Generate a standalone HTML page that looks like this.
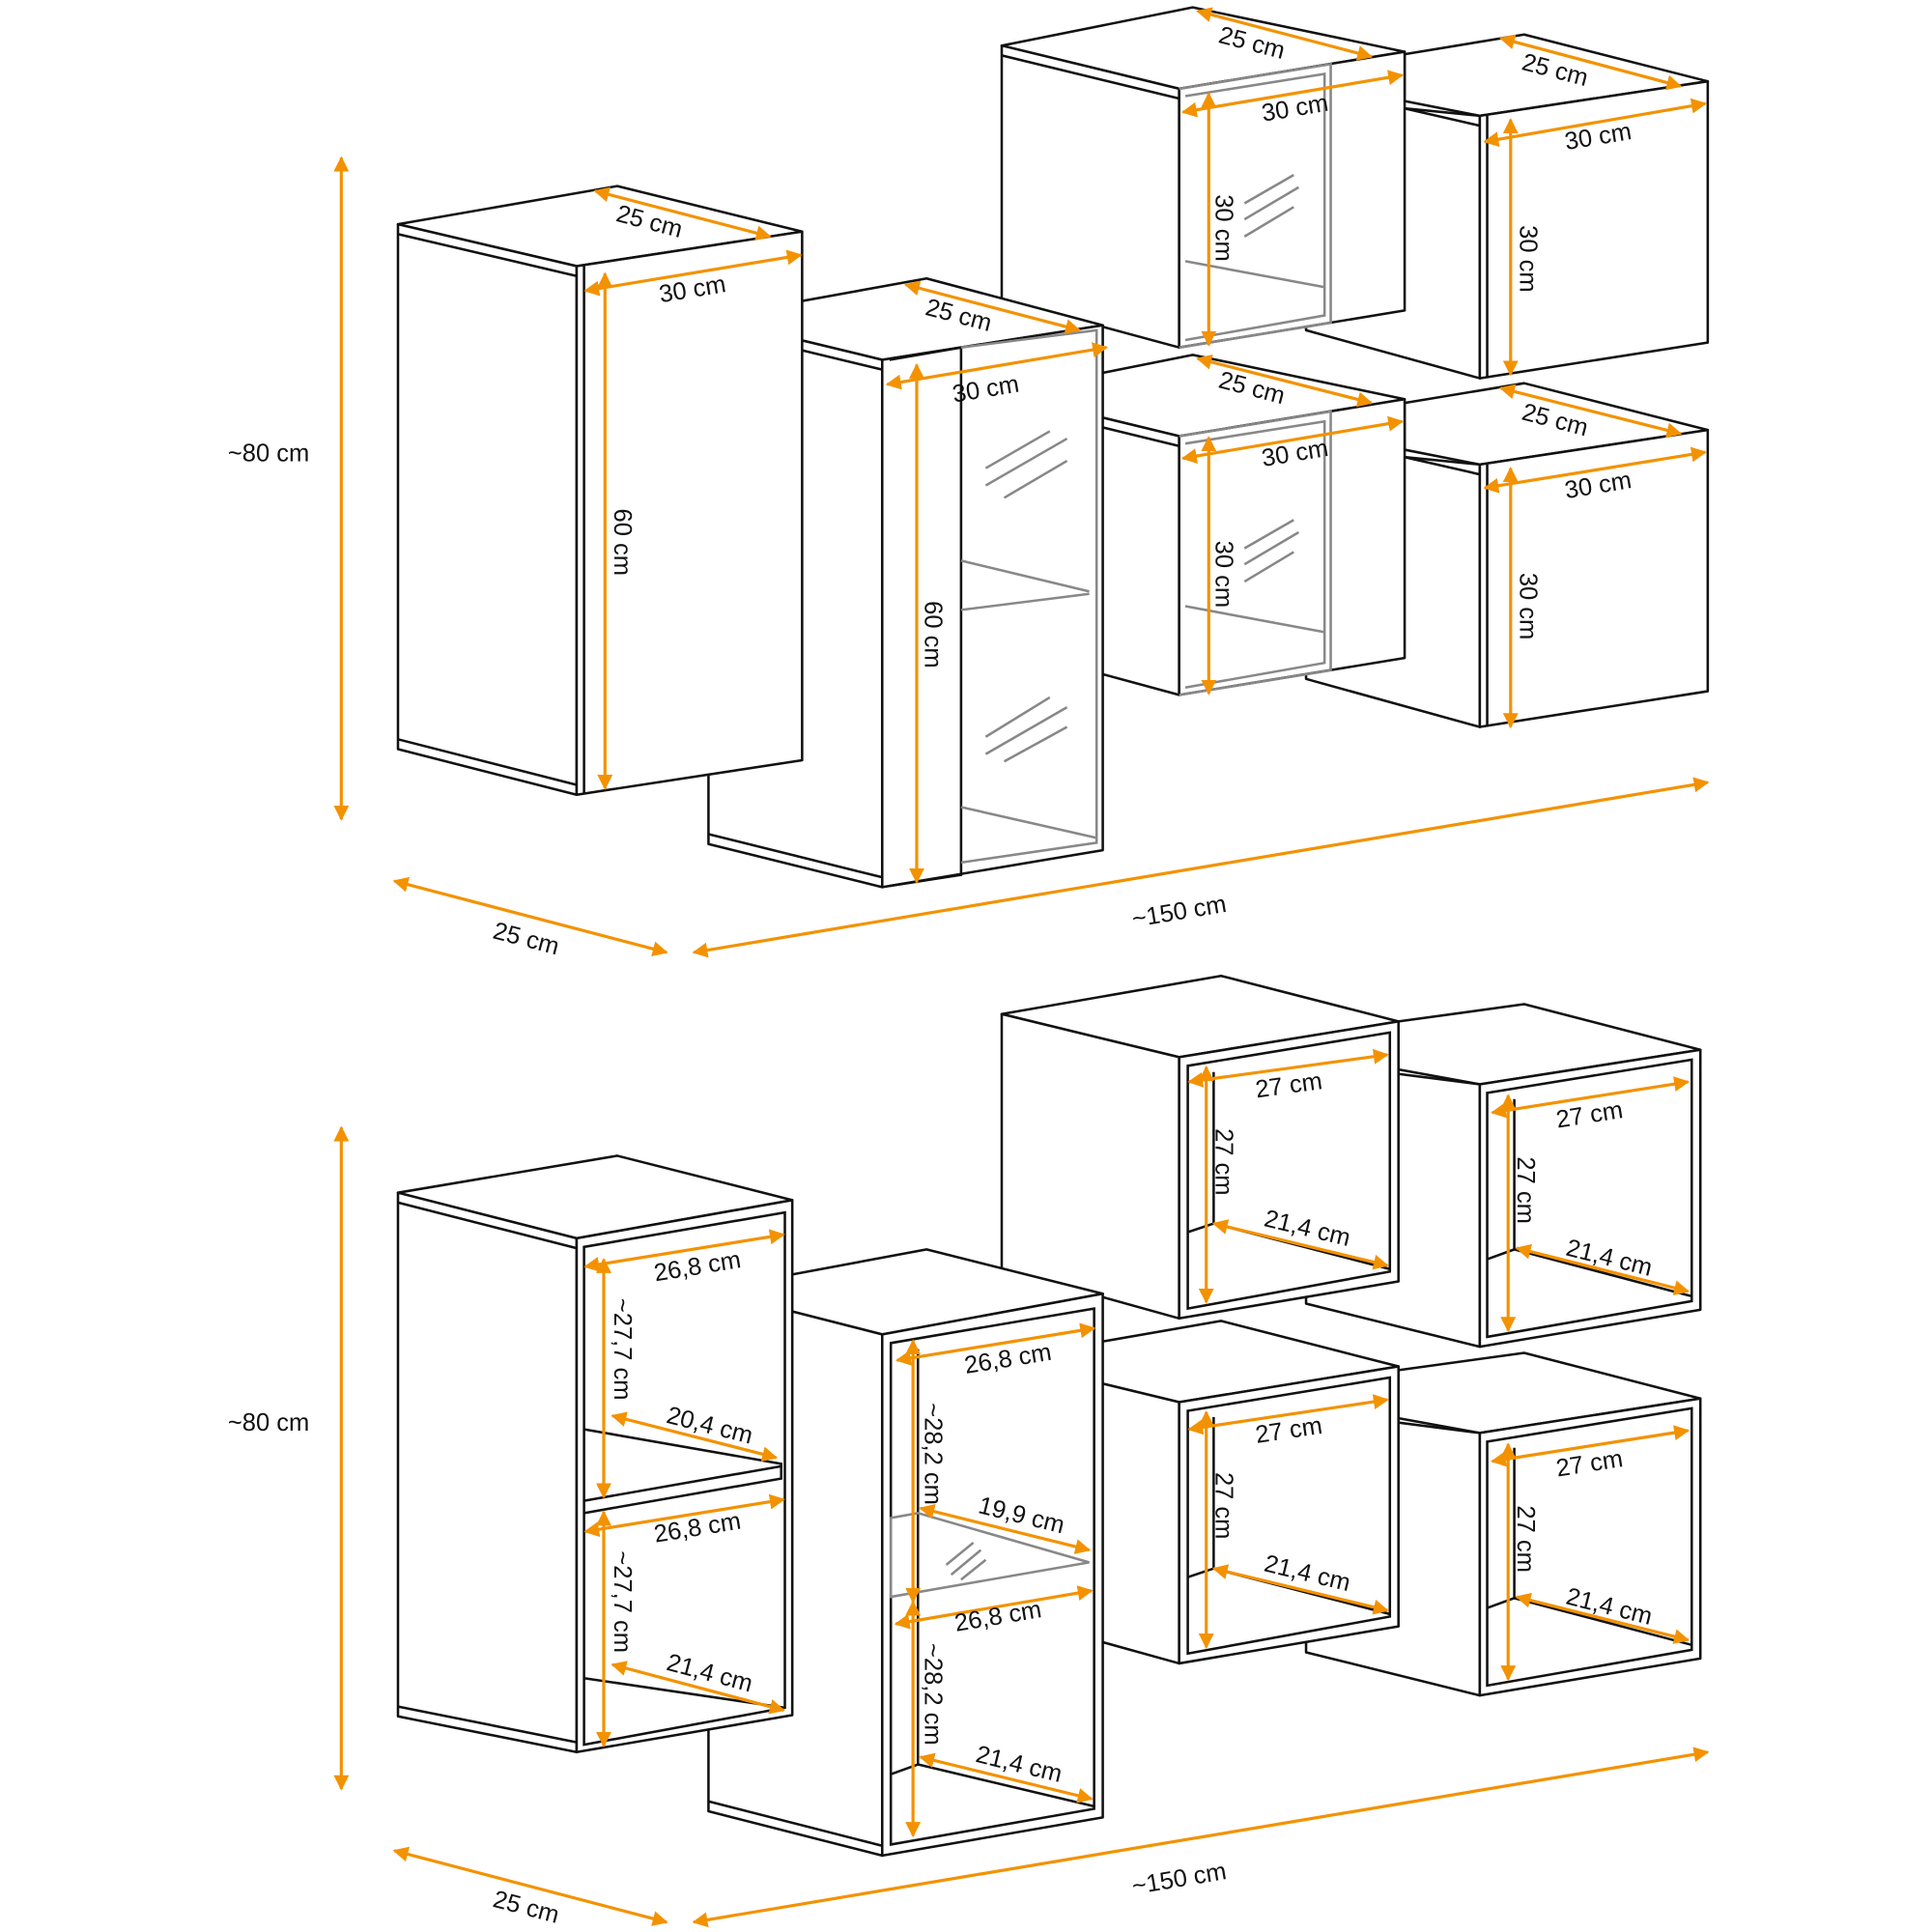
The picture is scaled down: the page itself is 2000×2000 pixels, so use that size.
<!DOCTYPE html>
<html><head><meta charset="utf-8"><style>
html,body{margin:0;padding:0;background:#fff}
svg{display:block}
text{font-family:"Liberation Sans",sans-serif;font-size:20px;fill:#111;text-anchor:middle;dominant-baseline:central}
.f{fill:#fff;stroke:#111;stroke-width:2;stroke-linejoin:round}
.l{stroke:#111;stroke-width:2;fill:none}
.g{stroke:#888;stroke-width:2;fill:none}
.a{stroke:#f39200;stroke-width:2.5;marker-start:url(#m);marker-end:url(#m)}
</style></head><body>
<svg width="2000" height="2000" viewBox="0 0 1568 1568" xmlns="http://www.w3.org/2000/svg">
<defs><marker id="m" viewBox="0 0 10 10" refX="9" refY="5" markerWidth="5" markerHeight="5" orient="auto-start-reverse"><path d="M0,0 L10,5 L0,10 z" fill="#f39200"/></marker></defs>

<!-- ===== TOP ===== -->
<!-- cube B -->
<polygon class="f" points="1140,82 1140,44 1237,28 1386,66 1201,94"/>
<polygon class="f" points="1060,80 1201,94 1201,307 1060,268"/>
<polygon class="f" points="1201,94 1386,66 1386,278 1201,307"/>
<line class="l" x1="1140" y1="88" x2="1201" y2="102"/>
<line class="l" x1="1207" y1="94" x2="1207" y2="306"/>
<!-- cube A -->
<polygon class="f" points="813,37 968,6 1140,42 957,72"/>
<polygon class="f" points="813,37 957,72 957,282 813,243"/>
<polygon class="f" points="957,72 1140,42 1140,252 957,282"/>
<line class="l" x1="813" y1="45" x2="957" y2="80"/>
<polyline class="g" points="957,72 1080,52 1080,262 957,282"/>
<polyline class="g" points="962,78 1075,60 1075,256 962,276"/>
<line class="g" x1="962" y1="212" x2="1075" y2="233"/>
<line class="g" x1="1010" y1="165" x2="1050" y2="142"/>
<line class="g" x1="1010" y1="178" x2="1054" y2="152"/>
<line class="g" x1="1010" y1="192" x2="1050" y2="168"/>
<!-- cube D -->
<polygon class="f" points="1140,365 1140,327 1237,311 1386,349 1201,377"/>
<polygon class="f" points="1060,363 1201,377 1201,590 1060,551"/>
<polygon class="f" points="1201,377 1386,349 1386,561 1201,590"/>
<line class="l" x1="1140" y1="371" x2="1201" y2="385"/>
<line class="l" x1="1207" y1="377" x2="1207" y2="589"/>
<!-- cube C -->
<polygon class="f" points="813,319 968,288 1140,324 957,354"/>
<polygon class="f" points="813,319 957,354 957,564 813,525"/>
<polygon class="f" points="957,354 1140,324 1140,534 957,564"/>
<line class="l" x1="813" y1="327" x2="957" y2="362"/>
<polyline class="g" points="957,354 1080,334 1080,544 957,564"/>
<polyline class="g" points="962,360 1075,342 1075,538 962,558"/>
<line class="g" x1="962" y1="492" x2="1075" y2="513"/>
<line class="g" x1="1010" y1="445" x2="1050" y2="422"/>
<line class="g" x1="1010" y1="458" x2="1054" y2="432"/>
<line class="g" x1="1010" y1="472" x2="1050" y2="448"/>
<!-- cabinet 2 -->
<polygon class="f" points="575,258 752,226 895,264 716,292"/>
<polygon class="f" points="575,258 716,292 716,720 575,685"/>
<polygon class="f" points="716,292 895,264 895,690 716,720"/>
<line class="l" x1="575" y1="266" x2="716" y2="300"/>
<line class="l" x1="575" y1="677" x2="716" y2="712"/>
<polyline class="l" points="722,292 780,282 780,710 722,719"/>
<polyline class="g" points="780,282 890,268 890,684 780,700"/>
<line class="g" x1="780" y1="655" x2="890" y2="680"/>
<line class="g" x1="780" y1="455" x2="884" y2="480"/>
<line class="g" x1="780" y1="495" x2="884" y2="482"/>
<line class="g" x1="800" y1="380" x2="852" y2="350"/>
<line class="g" x1="800" y1="394" x2="866" y2="356"/>
<line class="g" x1="815" y1="404" x2="866" y2="374"/>
<line class="g" x1="800" y1="598" x2="852" y2="566"/>
<line class="g" x1="800" y1="612" x2="866" y2="574"/>
<line class="g" x1="815" y1="618" x2="866" y2="590"/>
<!-- cabinet 1 -->
<polygon class="f" points="323,182 501,151 651,188 468,216"/>
<polygon class="f" points="323,182 468,216 468,645 323,608"/>
<polygon class="f" points="468,216 651,188 651,617 468,645"/>
<line class="l" x1="323" y1="190" x2="468" y2="224"/>
<line class="l" x1="323" y1="600" x2="468" y2="637"/>
<line class="l" x1="474" y1="216" x2="474" y2="644"/>

<!-- top dims -->
<line class="a" x1="277" y1="128" x2="277" y2="665"/><text x="218" y="368">~80 cm</text>
<line class="a" x1="320" y1="715" x2="541" y2="773"/><text transform="translate(427,762) rotate(14.7)">25 cm</text>
<line class="a" x1="563" y1="773" x2="1386" y2="635"/><text transform="translate(957,740) rotate(-9.5)">~150 cm</text>
<line class="a" x1="483" y1="155" x2="625" y2="192"/><text transform="translate(527,180) rotate(14.7)">25 cm</text>
<line class="a" x1="475" y1="236" x2="650" y2="207"/><text transform="translate(562,235) rotate(-9.4)">30 cm</text>
<line class="a" x1="491" y1="222" x2="491" y2="640"/><text transform="translate(505,440) rotate(90)">60 cm</text>
<line class="a" x1="735" y1="231" x2="876" y2="268"/><text transform="translate(778,256) rotate(14.7)">25 cm</text>
<line class="a" x1="720" y1="312" x2="898" y2="282"/><text transform="translate(800,316) rotate(-9.4)">30 cm</text>
<line class="a" x1="744" y1="296" x2="744" y2="716"/><text transform="translate(757,515) rotate(90)">60 cm</text>
<line class="a" x1="972" y1="9" x2="1113" y2="46"/><text transform="translate(1016,35) rotate(14.7)">25 cm</text>
<line class="a" x1="960" y1="91" x2="1138" y2="61"/><text transform="translate(1051,88) rotate(-9.4)">30 cm</text>
<line class="a" x1="981" y1="76" x2="981" y2="280"/><text transform="translate(993,185) rotate(90)">30 cm</text>
<line class="a" x1="1218" y1="31" x2="1364" y2="70"/><text transform="translate(1262,57) rotate(14.7)">25 cm</text>
<line class="a" x1="1205" y1="115" x2="1384" y2="84"/><text transform="translate(1297,111) rotate(-9.4)">30 cm</text>
<line class="a" x1="1226" y1="97" x2="1226" y2="304"/><text transform="translate(1240,210) rotate(90)">30 cm</text>
<line class="a" x1="972" y1="291" x2="1113" y2="327"/><text transform="translate(1016,315) rotate(14.7)">25 cm</text>
<line class="a" x1="960" y1="372" x2="1138" y2="342"/><text transform="translate(1051,368) rotate(-9.4)">30 cm</text>
<line class="a" x1="981" y1="355" x2="981" y2="563"/><text transform="translate(993,466) rotate(90)">30 cm</text>
<line class="a" x1="1218" y1="315" x2="1364" y2="352"/><text transform="translate(1262,341) rotate(14.7)">25 cm</text>
<line class="a" x1="1205" y1="396" x2="1384" y2="367"/><text transform="translate(1297,394) rotate(-9.4)">30 cm</text>
<line class="a" x1="1226" y1="380" x2="1226" y2="590"/><text transform="translate(1240,492) rotate(90)">30 cm</text>

<!-- ===== BOTTOM ===== -->
<!-- cube B' -->
<polygon class="f" points="1135,868 1135,829 1237,815 1380,852 1201,880"/>
<polygon class="f" points="1060,862 1201,880 1201,1093 1060,1058"/>
<polygon class="f" points="1201,880 1380,852 1380,1063 1201,1093"/>
<polygon class="l" points="1207,887 1373,860 1373,1056 1207,1085"/>
<polyline class="l" points="1229,892 1229,1014 1373,1052"/>
<line class="l" x1="1207" y1="1022" x2="1229" y2="1014"/>
<!-- cube A' -->
<polygon class="f" points="813,823 991,792 1135,829 957,858"/>
<polygon class="f" points="813,823 957,858 957,1070 813,1030"/>
<polygon class="f" points="957,858 1135,829 1135,1040 957,1070"/>
<polygon class="l" points="964,865 1128,838 1128,1032 964,1062"/>
<polyline class="l" points="985,870 985,993 1128,1030"/>
<line class="l" x1="964" y1="1000" x2="985" y2="993"/>
<!-- cube D' -->
<polygon class="f" points="1135,1151 1135,1112 1237,1098 1380,1135 1201,1163"/>
<polygon class="f" points="1060,1145 1201,1163 1201,1376 1060,1341"/>
<polygon class="f" points="1201,1163 1380,1135 1380,1346 1201,1376"/>
<polygon class="l" points="1207,1170 1373,1143 1373,1339 1207,1368"/>
<polyline class="l" points="1229,1175 1229,1297 1373,1335"/>
<line class="l" x1="1207" y1="1305" x2="1229" y2="1297"/>
<!-- cube C' -->
<polygon class="f" points="813,1103 991,1072 1135,1109 957,1138"/>
<polygon class="f" points="813,1103 957,1138 957,1350 813,1310"/>
<polygon class="f" points="957,1138 1135,1109 1135,1320 957,1350"/>
<polygon class="l" points="964,1145 1128,1118 1128,1312 964,1342"/>
<polyline class="l" points="985,1150 985,1273 1128,1310"/>
<line class="l" x1="964" y1="1280" x2="985" y2="1273"/>
<!-- cabinet 2' -->
<polygon class="f" points="575,1047 752,1014 895,1050 716,1083"/>
<polygon class="f" points="575,1047 716,1083 716,1506 575,1470"/>
<polygon class="f" points="716,1083 895,1050 895,1475 716,1506"/>
<polygon class="l" points="723,1090 888,1062 888,1468 723,1497"/>
<line class="l" x1="575" y1="1462" x2="716" y2="1498"/>
<polyline class="l" points="745,1095 745,1432 888,1466"/>
<line class="l" x1="723" y1="1440" x2="745" y2="1432"/>
<polygon class="g" points="723,1232 745,1228 884,1268 723,1296"/>
<line class="g" x1="768" y1="1270" x2="790" y2="1252"/>
<line class="g" x1="772" y1="1278" x2="796" y2="1258"/>
<line class="g" x1="780" y1="1282" x2="800" y2="1266"/>
<!-- cabinet 1' -->
<polygon class="f" points="323,968 501,938 643,974 468,1005"/>
<polygon class="f" points="323,968 468,1005 468,1422 323,1393"/>
<polygon class="f" points="468,1005 643,974 643,1392 468,1422"/>
<polygon class="l" points="474,1012 637,984 637,1386 474,1416"/>
<line class="l" x1="323" y1="976" x2="468" y2="1013"/>
<line class="l" x1="323" y1="1385" x2="468" y2="1414"/>
<polyline class="l" points="474,1160 634,1188 634,1200 474,1228"/>
<line class="l" x1="474" y1="1218" x2="634" y2="1190"/>
<polyline class="l" points="474,1362 637,1386"/>

<!-- bottom dims -->
<line class="a" x1="277" y1="915" x2="277" y2="1452"/><text x="218" y="1155">~80 cm</text>
<line class="a" x1="320" y1="1502" x2="541" y2="1560"/><text transform="translate(427,1548) rotate(14.7)">25 cm</text>
<line class="a" x1="563" y1="1560" x2="1386" y2="1422"/><text transform="translate(957,1525) rotate(-9.5)">~150 cm</text>
<line class="a" x1="475" y1="1028" x2="636" y2="1002"/><text transform="translate(566,1028) rotate(-9.2)">26,8 cm</text>
<line class="a" x1="490" y1="1022" x2="490" y2="1215"/><text transform="translate(505,1095) rotate(90)">~27,7 cm</text>
<line class="a" x1="497" y1="1149" x2="630" y2="1183"/><text transform="translate(576,1157) rotate(14.3)">20,4 cm</text>
<line class="a" x1="475" y1="1243" x2="636" y2="1217"/><text transform="translate(566,1240) rotate(-9.2)">26,8 cm</text>
<line class="a" x1="490" y1="1227" x2="490" y2="1417"/><text transform="translate(505,1300) rotate(90)">~27,7 cm</text>
<line class="a" x1="497" y1="1351" x2="636" y2="1388"/><text transform="translate(576,1358) rotate(14.9)">21,4 cm</text>
<line class="a" x1="728" y1="1104" x2="888" y2="1078"/><text transform="translate(818,1103) rotate(-9.2)">26,8 cm</text>
<line class="a" x1="741" y1="1088" x2="741" y2="1300"/><text transform="translate(757,1180) rotate(90)">~28,2 cm</text>
<line class="a" x1="747" y1="1224" x2="884" y2="1258"/><text transform="translate(829,1230) rotate(13.9)">19,9 cm</text>
<line class="a" x1="727" y1="1318" x2="886" y2="1291"/><text transform="translate(810,1312) rotate(-9.6)">26,8 cm</text>
<line class="a" x1="741" y1="1300" x2="741" y2="1490"/><text transform="translate(757,1375) rotate(90)">~28,2 cm</text>
<line class="a" x1="747" y1="1426" x2="886" y2="1460"/><text transform="translate(827,1432) rotate(13.7)">21,4 cm</text>
<line class="a" x1="965" y1="878" x2="1126" y2="856"/><text transform="translate(1046,881) rotate(-7.8)">27 cm</text>
<line class="a" x1="979" y1="866" x2="979" y2="1057"/><text transform="translate(993,943) rotate(90)">27 cm</text>
<line class="a" x1="985" y1="993" x2="1126" y2="1027"/><text transform="translate(1061,997) rotate(13.5)">21,4 cm</text>
<line class="a" x1="1211" y1="903" x2="1370" y2="878"/><text transform="translate(1290,905) rotate(-8.9)">27 cm</text>
<line class="a" x1="1224" y1="889" x2="1224" y2="1080"/><text transform="translate(1238,966) rotate(90)">27 cm</text>
<line class="a" x1="1231" y1="1013" x2="1370" y2="1048"/><text transform="translate(1306,1021) rotate(14)">21,4 cm</text>
<line class="a" x1="965" y1="1160" x2="1126" y2="1136"/><text transform="translate(1046,1161) rotate(-8.4)">27 cm</text>
<line class="a" x1="979" y1="1146" x2="979" y2="1337"/><text transform="translate(993,1222) rotate(90)">27 cm</text>
<line class="a" x1="985" y1="1273" x2="1126" y2="1307"/><text transform="translate(1061,1277) rotate(13.5)">21,4 cm</text>
<line class="a" x1="1211" y1="1186" x2="1370" y2="1161"/><text transform="translate(1290,1188) rotate(-8.9)">27 cm</text>
<line class="a" x1="1224" y1="1172" x2="1224" y2="1363"/><text transform="translate(1238,1249) rotate(90)">27 cm</text>
<line class="a" x1="1231" y1="1296" x2="1370" y2="1331"/><text transform="translate(1306,1304) rotate(14)">21,4 cm</text>
</svg>
</body></html>
